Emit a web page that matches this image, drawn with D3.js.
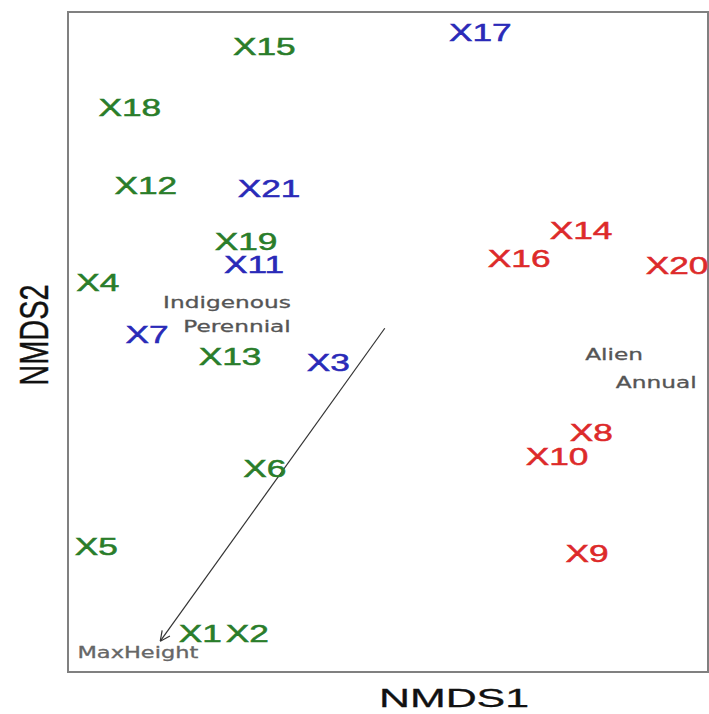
<!DOCTYPE html>
<html>
<head>
<meta charset="utf-8">
<script src="https://cdn.jsdelivr.net/npm/d3@7"></script>
<style>
  body { margin: 0; background: #fff; }
</style>
</head>
<body>
<div class="nmds-plot"></div>
<script>
// site scores
var sites = ["X1","X2","X3","X4","X5","X6","X7","X8","X9","X10","X11",
             "X12","X13","X14","X15","X16","X17","X18","X19","X20","X21"];
var nmds1 = [-0.346,-0.258,-0.106,-0.538,-0.541,-0.225,-0.446, 0.387, 0.379, 0.323,-0.245,
             -0.448,-0.290, 0.368,-0.226, 0.252, 0.179,-0.478,-0.260, 0.548,-0.217];
var nmds2 = [-0.556,-0.556,-0.063, 0.082,-0.398,-0.256,-0.012,-0.190,-0.410,-0.234, 0.115,
              0.259,-0.052, 0.177, 0.511, 0.126, 0.537, 0.400, 0.157, 0.113, 0.253];
var group = ["g","g","b","g","g","g","b","r","r","r","b",
             "g","g","r","g","r","b","g","g","r","b"];

// factor centroids
var factorLabels = ["Indigenous","Perennial","Alien","Annual"];
var factorX = [-0.296,-0.277, 0.430, 0.509];
var factorY = [ 0.046, 0.002,-0.049,-0.100];

// fitted vector
var vecName = "MaxHeight";
var vecX = [0, -0.421];
var vecY = [0, -0.569];
var vecLabelX = -0.463, vecLabelY = -0.590;

var colors = {g: "#2a7d2a", b: "#2a2ab8", r: "#dd2a2a"};

var margin = {top:12, right:1, bottom:42, left:68};
var width = 709 - margin.left - margin.right;
var height = 714 - margin.top - margin.bottom;

var svg = d3.select(".nmds-plot")
    .append("svg")
    .attr("width", 709)
    .attr("height", 714);

var g = svg.append("g")
    .attr("transform", "translate(" + margin.left + "," + margin.top + ")");

var x = d3.scaleLinear().domain([-0.594, 0.606]).range([0, width]);
var y = d3.scaleLinear().domain([-0.625, 0.575]).range([height, 0]);

g.append("rect")
    .attr("width", width)
    .attr("height", height)
    .attr("fill", "none")
    .attr("stroke", "#808080")
    .attr("stroke-width", 2);

// arrow
var x0 = x(vecX[0]), y0 = y(vecY[0]), x1 = x(vecX[1]), y1 = y(vecY[1]);
g.append("line")
    .attr("x1", x0).attr("y1", y0)
    .attr("x2", x1).attr("y2", y1)
    .attr("stroke", "#333")
    .attr("stroke-width", 1.2);
var ang = Math.atan2(y1 - y0, x1 - x0), hl = 11;
[0.45, -0.45].forEach(function(a) {
  g.append("line")
      .attr("x1", x1).attr("y1", y1)
      .attr("x2", x1 - hl * Math.cos(ang + a))
      .attr("y2", y1 - hl * Math.sin(ang + a))
      .attr("stroke", "#333")
      .attr("stroke-width", 1.2);
});

g.append("text")
    .attr("transform", "translate(" + x(vecLabelX) + "," + y(vecLabelY) + ") scale(1.5,1)")
    .attr("text-anchor", "middle")
    .attr("dominant-baseline", "central")
    .attr("font-family", "DejaVu Sans")
    .attr("font-size", 15)
    .attr("fill", "#666")
    .attr("stroke", "#666")
    .attr("stroke-width", 0.3)
    .text(vecName);

// factor labels
g.selectAll(".factor")
    .data(factorLabels)
    .enter().append("text")
    .attr("class", "factor")
    .attr("transform", function(d, i) {
      return "translate(" + x(factorX[i]) + "," + y(factorY[i]) + ") scale(1.5,1)";
    })
    .attr("text-anchor", "middle")
    .attr("dominant-baseline", "central")
    .attr("font-family", "DejaVu Sans")
    .attr("font-size", 15.5)
    .attr("fill", "#555")
    .attr("stroke", "#555")
    .attr("stroke-width", 0.3)
    .text(function(d) { return d; });

// site labels
g.selectAll(".site")
    .data(sites)
    .enter().append("text")
    .attr("class", "site")
    .attr("transform", function(d, i) {
      return "translate(" + x(nmds1[i]) + "," + y(nmds2[i]) + ") scale(1.5,1)";
    })
    .attr("text-anchor", "middle")
    .attr("dominant-baseline", "central")
    .attr("font-family", "Liberation Sans, Arial, sans-serif")
    .attr("font-size", 23.5)
    .attr("fill", function(d, i) { return colors[group[i]]; })
    .attr("stroke", function(d, i) { return colors[group[i]]; })
    .attr("stroke-width", 0.5)
    .text(function(d) { return d; });

// axis titles
svg.append("text")
    .attr("transform", "translate(" + (margin.left + width / 2 + 66) + ",707) scale(1.65,1)")
    .attr("text-anchor", "middle")
    .attr("font-family", "Liberation Sans, Arial, sans-serif")
    .attr("font-size", 26)
    .attr("fill", "#111")
    .attr("stroke", "#111")
    .attr("stroke-width", 0.3)
    .text("NMDS1");

svg.append("text")
    .attr("transform", "translate(48,335) rotate(-90) scale(1,1.38)")
    .attr("text-anchor", "middle")
    .attr("font-family", "Liberation Sans, Arial, sans-serif")
    .attr("font-size", 29)
    .attr("fill", "#111")
    .attr("stroke", "#111")
    .attr("stroke-width", 0.3)
    .text("NMDS2");
</script>
</body>
</html>
